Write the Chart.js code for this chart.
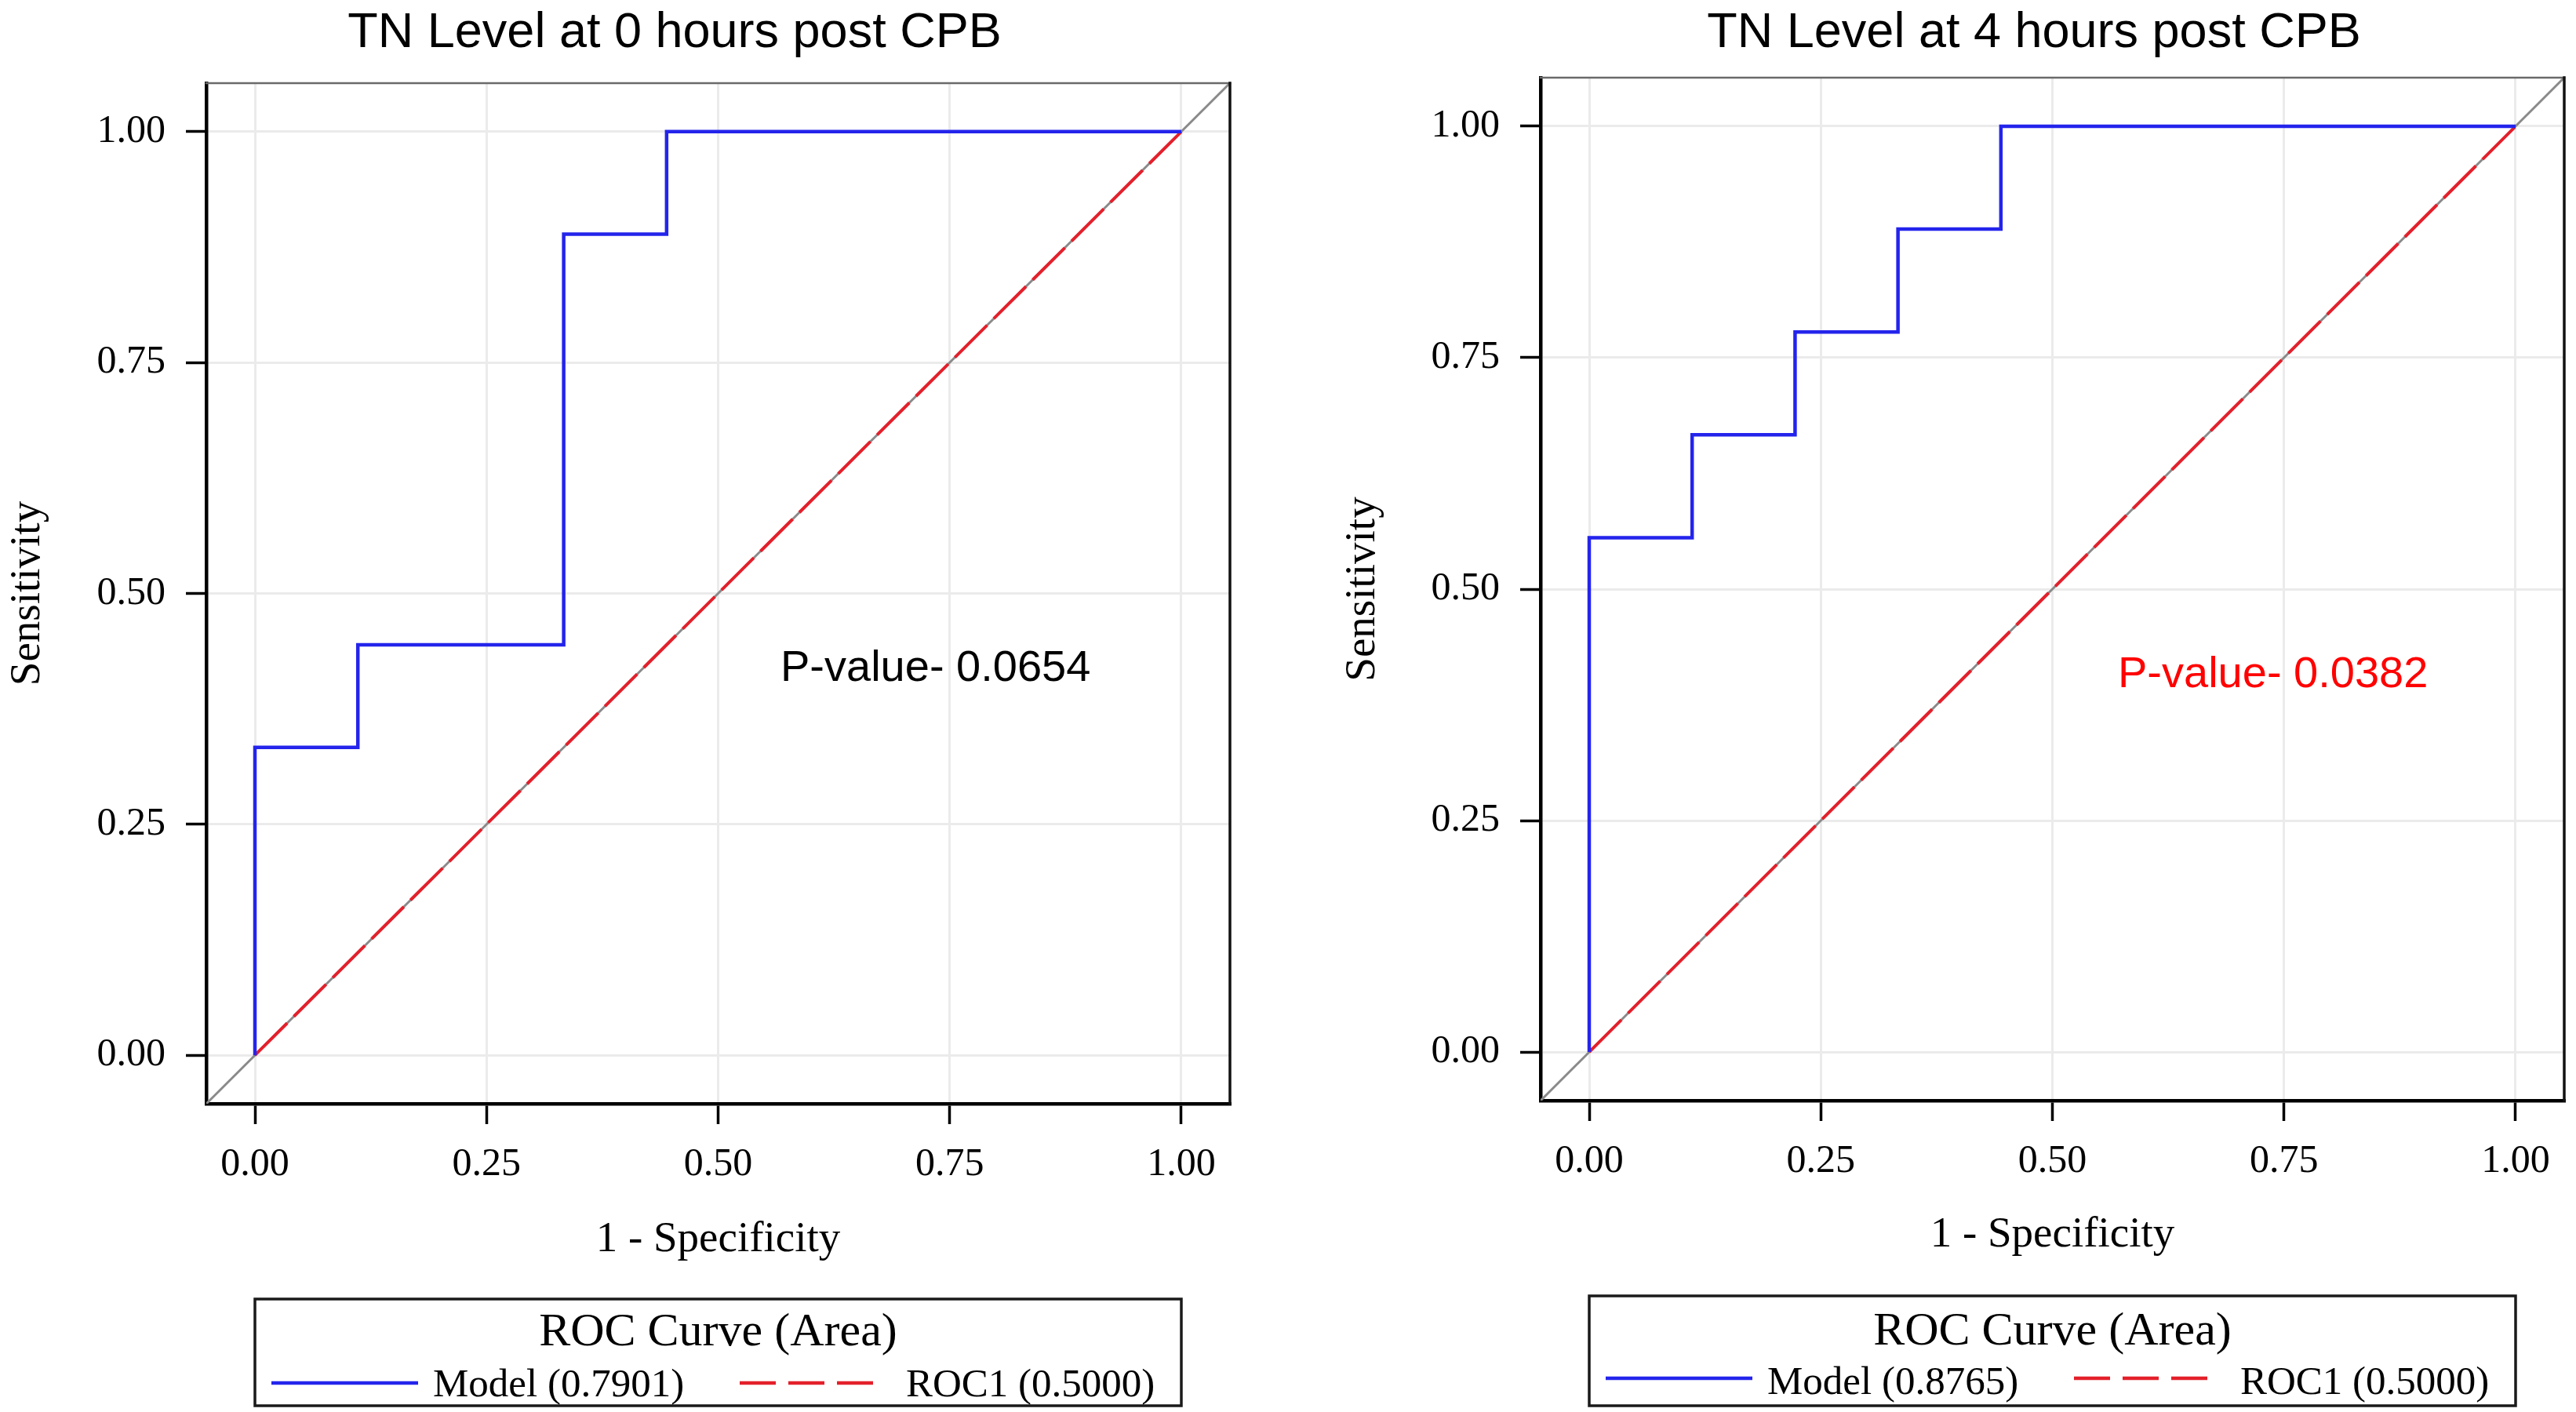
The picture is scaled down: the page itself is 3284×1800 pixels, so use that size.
<!DOCTYPE html>
<html>
<head>
<meta charset="utf-8">
<script src="https://cdn.jsdelivr.net/npm/chart.js@4.4.1/dist/chart.umd.min.js"></script>
<style>
html,body{margin:0;padding:0;background:#fff;}
#wrap{position:relative;width:3284px;height:1800px;background:#fff;}
.panel{position:absolute;top:0;width:1642px;height:1800px;}
</style>
</head>
<body>
<div id="wrap">
  <div class="panel" style="left:0"><canvas id="c0" width="1642" height="1800"></canvas></div>
  <div class="panel" style="left:1642px"><canvas id="c1" width="1642" height="1800"></canvas></div>
</div>
<script>
// ---------------- data ----------------
const PANEL_TITLES = ['TN Level at 0 hours post CPB', 'TN Level at 4 hours post CPB'];
// ROC points (1 - Specificity, Sensitivity)
const FPR_0H = [0, 0, 0.1111, 0.1111, 0.3333, 0.3333, 0.4444, 0.4444, 1];
const TPR_0H = [0, 0.3333, 0.3333, 0.4444, 0.4444, 0.8889, 0.8889, 1, 1];
const FPR_4H = [0, 0, 0.1111, 0.1111, 0.2222, 0.2222, 0.3333, 0.3333, 0.4444, 0.4444, 1];
const TPR_4H = [0, 0.5556, 0.5556, 0.6667, 0.6667, 0.7778, 0.7778, 0.8889, 0.8889, 1, 1];
// reference (chance) ROC1 line
const REF_FPR = [0, 1];
const REF_TPR = [0, 1];
const AUC_MODEL = [0.7901, 0.8765];
const AUC_REF = [0.5000, 0.5000];
const P_VALUES = ['0.0654', '0.0382'];
const TICK_VALUES = [0, 0.25, 0.5, 0.75, 1];
const TICK_LABELS = ['0.00', '0.25', '0.50', '0.75', '1.00'];
const AXIS_MIN = -0.0525;
const AXIS_MAX = 1.0525;
const DIAG = [AXIS_MIN, AXIS_MAX];
const LEGEND_TITLE = 'ROC Curve (Area)';

// ---------------- styling / layout ----------------
const SERIF = '"Liberation Serif", "Times New Roman", serif';
const SANS = '"Liberation Sans", Arial, sans-serif';
const BLUE = '#2424ec';
const RED = '#e3202b';
const GRAY = '#8a8a8a';

const LAYOUTS = [
  {left:263, top:106, right:1568, bottom:1407, yTitlePad:3, xTitlePad:186,
   titleX:860, titleY:60, pX:995, pY:868, pColor:'#000000',
   legTop:1656, legBottom:1792, legTitleY:1715, legLineY:1763, legTextY:1780},
  {left:322, top:99, right:1627, bottom:1403, yTitlePad:4, xTitlePad:192,
   titleX:951, titleY:60, pX:1058, pY:876, pColor:'#ff0000',
   legTop:1652, legBottom:1792, legTitleY:1714, legLineY:1757, legTextY:1777}
];
const CANVAS_W = 1642, CANVAS_H = 1800, Y_AXIS_W = 263;

function pts(xs, ys) { return xs.map((v, i) => ({x: v, y: ys[i]})); }

const annotPlugin = {
  id: 'annot',
  afterDraw(chart, args, o) {
    const {ctx, chartArea: ca, scales} = chart;
    const L = o.layout;
    ctx.save();
    // top & right frame
    ctx.lineCap = 'square';
    ctx.strokeStyle = '#6a6a6a'; ctx.lineWidth = 2.5;
    ctx.beginPath(); ctx.moveTo(ca.left, ca.top); ctx.lineTo(ca.right, ca.top); ctx.stroke();
    ctx.strokeStyle = '#111'; ctx.lineWidth = 3.5;
    ctx.beginPath(); ctx.moveTo(ca.right, ca.top); ctx.lineTo(ca.right, ca.bottom); ctx.stroke();
    ctx.lineCap = 'butt';

    // chart title
    ctx.fillStyle = '#000';
    ctx.font = '63px ' + SANS;
    ctx.textAlign = 'center'; ctx.textBaseline = 'alphabetic';
    ctx.fillText(o.title, L.titleX, L.titleY);

    // p-value text
    ctx.fillStyle = L.pColor;
    ctx.font = '56px ' + SANS;
    ctx.textAlign = 'left';
    ctx.fillText('P-value- ' + o.pValue, L.pX, L.pY);

    // legend box spanning x = 0 .. 1
    const bl = scales.x.getPixelForValue(0);
    const br = scales.x.getPixelForValue(1);
    ctx.strokeStyle = '#1a1a1a'; ctx.lineWidth = 3.5;
    ctx.strokeRect(bl, L.legTop, br - bl, L.legBottom - L.legTop);
    ctx.fillStyle = '#000';
    ctx.font = '60px ' + SERIF;
    ctx.textAlign = 'center';
    ctx.fillText(LEGEND_TITLE, (bl + br) / 2, L.legTitleY);

    const ds = chart.data.datasets;
    // model item
    ctx.strokeStyle = ds[0].borderColor; ctx.lineWidth = 4.5;
    ctx.beginPath(); ctx.moveTo(bl + 21, L.legLineY); ctx.lineTo(bl + 208, L.legLineY); ctx.stroke();
    ctx.font = '51px ' + SERIF; ctx.textAlign = 'left';
    ctx.fillText(ds[0].label, bl + 227, L.legTextY);
    // ROC1 item
    ctx.strokeStyle = ds[1].borderColor; ctx.lineWidth = 4.5;
    ctx.setLineDash([46, 16]);
    ctx.beginPath(); ctx.moveTo(bl + 618, L.legLineY); ctx.lineTo(bl + 789, L.legLineY); ctx.stroke();
    ctx.setLineDash([]);
    ctx.fillText(ds[1].label, bl + 830, L.legTextY);
    ctx.restore();
  }
};

function makeChart(id, idx, fpr, tpr) {
  const L = LAYOUTS[idx];
  const axisCommon = {
    type: 'linear',
    min: AXIS_MIN, max: AXIS_MAX,
    afterBuildTicks: s => { s.ticks = TICK_VALUES.map(v => ({value: v})); },
    ticks: {
      callback: (v, i) => TICK_LABELS[i],
      font: {family: SERIF, size: 50},
      color: '#000',
      autoSkip: false, maxRotation: 0, minRotation: 0,
      includeBounds: false
    },
    grid: {color: '#ebebeb', lineWidth: 3, tickColor: '#000', tickWidth: 3.5, tickLength: 26, drawTicks: true},
    border: {display: true, color: '#000', width: 4.5}
  };
  return new Chart(document.getElementById(id), {
    type: 'line',
    data: {
      datasets: [
        {label: 'Model (' + AUC_MODEL[idx].toFixed(4) + ')', data: pts(fpr, tpr),
         borderColor: BLUE, borderWidth: 4.5, pointRadius: 0, tension: 0, fill: false},
        {label: 'ROC1 (' + AUC_REF[idx].toFixed(4) + ')', data: pts(REF_FPR, REF_TPR),
         borderColor: RED, borderWidth: 4, borderDash: [58, 12], pointRadius: 0, tension: 0, fill: false},
        {label: 'diag', data: pts(DIAG, DIAG),
         borderColor: GRAY, borderWidth: 3, pointRadius: 0, tension: 0, fill: false}
      ]
    },
    options: {
      responsive: false,
      animation: false,
      events: [],
      layout: {padding: {left: L.left - Y_AXIS_W, top: L.top, right: CANVAS_W - L.right, bottom: 0}},
      scales: {
        x: Object.assign({}, axisCommon, {
          position: 'bottom',
          afterFit: s => { s.height = CANVAS_H - L.bottom; },
          ticks: Object.assign({}, axisCommon.ticks, {padding: 22}),
          title: {display: true, text: '1 - Specificity', color: '#000',
                  font: {family: SERIF, size: 55, lineHeight: 1.2}, padding: {top: 0, bottom: L.xTitlePad}}
        }),
        y: Object.assign({}, axisCommon, {
          position: 'left',
          afterFit: s => { s.width = Y_AXIS_W; },
          ticks: Object.assign({}, axisCommon.ticks, {padding: 26}),
          title: {display: true, text: 'Sensitivity', color: '#000',
                  font: {family: SERIF, size: 55, lineHeight: 1.2}, padding: {top: L.yTitlePad, bottom: 0}}
        })
      },
      plugins: {
        legend: {display: false},
        title: {display: false},
        tooltip: {enabled: false},
        annot: {layout: L, title: PANEL_TITLES[idx], pValue: P_VALUES[idx]}
      }
    },
    plugins: [annotPlugin]
  });
}

makeChart('c0', 0, FPR_0H, TPR_0H);
makeChart('c1', 1, FPR_4H, TPR_4H);
</script>
</body>
</html>
